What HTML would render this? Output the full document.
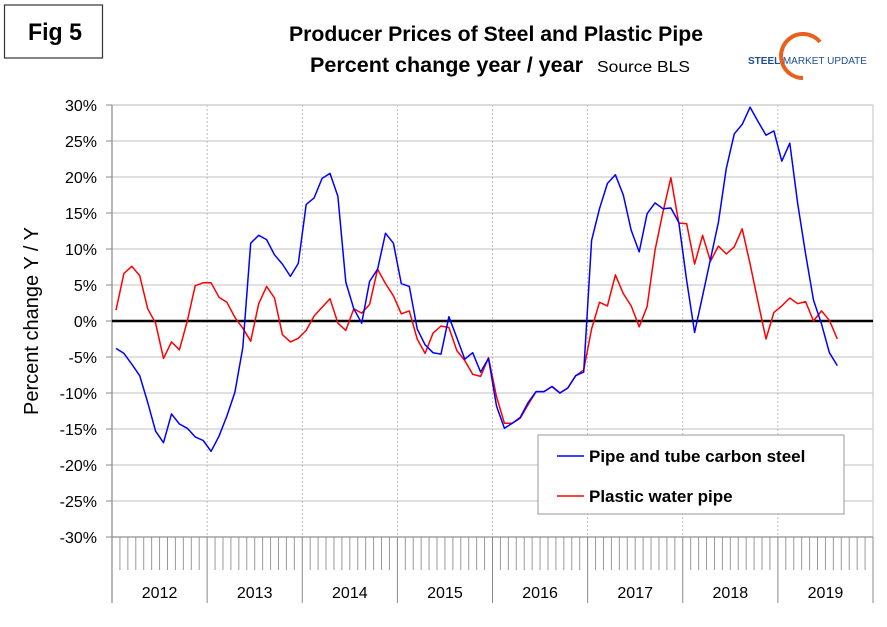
<!DOCTYPE html>
<html><head><meta charset="utf-8"><style>
body{margin:0;background:#fff;width:887px;height:622px;overflow:hidden;font-family:"Liberation Sans",Arial,sans-serif}
svg text{font-family:"Liberation Sans",Arial,sans-serif}
</style></head><body>
<svg id="chart" width="887" height="622" viewBox="0 0 887 622" xmlns="http://www.w3.org/2000/svg">
<rect x="4.5" y="5" width="98" height="53" fill="#fff" stroke="#333" stroke-width="1.2"/>
<text x="28" y="40" font-size="24" font-weight="bold" textLength="54" lengthAdjust="spacingAndGlyphs">Fig 5</text>
<text x="289" y="41" font-size="21" font-weight="bold" textLength="414" lengthAdjust="spacingAndGlyphs">Producer Prices of Steel and Plastic Pipe</text>
<text x="310" y="72" font-size="21" font-weight="bold" textLength="273" lengthAdjust="spacingAndGlyphs">Percent change year / year</text>
<text x="597" y="72" font-size="16" textLength="93" lengthAdjust="spacingAndGlyphs">Source BLS</text>
<g>
<path d="M 820 42 A 22 22 0 1 0 803 78" fill="none" stroke="#e8601c" stroke-width="4"/>
<text x="748" y="64" font-size="10" font-weight="bold" fill="#1b4f8f">STEEL <tspan font-weight="normal">MARKET UPDATE</tspan></text>
</g>
<g id="grid"></g>
<g id="axes"></g>
<g id="series"></g>
<text transform="translate(38,321) rotate(-90)" text-anchor="middle" font-size="20">Percent change Y / Y</text>
<g>
<rect x="538" y="435" width="306" height="79" fill="#fff" stroke="#999" stroke-width="1"/>
<line x1="557" y1="456" x2="584" y2="456" stroke="#0000ff" stroke-width="1.5"/>
<text x="589" y="462" font-size="17" font-weight="bold">Pipe and tube carbon steel</text>
<line x1="557" y1="496" x2="584" y2="496" stroke="#ff0000" stroke-width="1.5"/>
<text x="589" y="502" font-size="17" font-weight="bold">Plastic water pipe</text>
</g>
</svg>
<script>
const years = ["2012","2013","2014","2015","2016","2017","2018","2019"];
const yTicks = [30,25,20,15,10,5,0,-5,-10,-15,-20,-25,-30];
const steel = [-3.8,-4.5,-6.0,-7.6,-11.3,-15.3,-16.9,-12.9,-14.3,-14.9,-16.1,-16.6,-18.1,-16.0,-13.2,-9.9,-3.7,10.8,11.9,11.3,9.2,7.9,6.2,8.0,16.2,17.1,19.8,20.5,17.3,5.4,1.7,-0.3,5.5,7.2,12.2,10.8,5.2,4.8,-1.1,-3.3,-4.4,-4.6,0.6,-2.3,-5.3,-4.4,-7.1,-5.2,-11.8,-14.9,-14.2,-13.4,-11.3,-9.8,-9.8,-9.1,-10.0,-9.3,-7.6,-7.1,11.2,15.6,19.1,20.3,17.5,12.6,9.6,14.9,16.4,15.6,15.7,13.7,5.6,-1.6,3.5,8.6,13.7,21.2,26.0,27.3,29.7,27.7,25.8,26.4,22.2,24.7,16.3,9.3,2.9,-0.4,-4.4,-6.2];
const plastic = [1.5,6.6,7.6,6.3,1.7,-0.3,-5.2,-2.9,-4.0,0,4.9,5.3,5.3,3.3,2.6,0.5,-1.0,-2.8,2.4,4.8,3.2,-1.9,-2.9,-2.4,-1.3,0.7,1.9,3.1,-0.3,-1.3,1.7,1.1,2.3,7.2,5.2,3.5,1.0,1.4,-2.5,-4.5,-1.7,-0.7,-0.9,-4.1,-5.5,-7.4,-7.7,-5.1,-10.5,-14.2,-14.2,-13.5,-11.6,-9.8,-9.8,-9.1,-10.0,-9.3,-7.6,-6.8,-1.1,2.6,2.1,6.4,3.8,2.1,-0.8,2.0,9.8,15.1,19.9,13.6,13.5,7.9,11.9,8.3,10.4,9.3,10.3,12.8,7.9,2.6,-2.5,1.2,2.1,3.2,2.4,2.7,0,1.4,0.1,-2.5];

const NS="http://www.w3.org/2000/svg";
const X0=112, X1=873, Y0=105, Y1=537;
const monthW=(X1-X0)/(years.length*12);
function xScale(i){return X0+(i+0.5)*monthW;}
function yScale(v){return Y0+(30-v)/60*(Y1-Y0);}
function mk(tag,attrs,parent){const e=document.createElementNS(NS,tag);for(const k in attrs)e.setAttribute(k,attrs[k]);parent.appendChild(e);return e;}
const grid=document.getElementById('grid'), axes=document.getElementById('axes'), series=document.getElementById('series');

yTicks.forEach(t=>{
  const y=yScale(t);
  if(t!==0){const g=mk('line',{x1:X0,x2:X1,y1:y,y2:y,stroke:'#d6d6d6','stroke-width':1.5},grid);
  
  }
  mk('line',{x1:X0-6,x2:X0,y1:y,y2:y,stroke:'#888'},axes);
  const lb=mk('text',{x:97,y:y+6,'text-anchor':'end','font-size':16},axes);
  lb.textContent=t+'%';
  
  
});
years.forEach((yr,k)=>{
  const xa=X0+k*12*monthW;
  if(k>0){const g=mk('line',{x1:xa,x2:xa,y1:Y0,y2:Y1,stroke:'#aaa','stroke-dasharray':'2,2','stroke-width':0.8},grid);
  
  }
  mk('line',{x1:xa,x2:xa,y1:Y1,y2:603,stroke:'#888','stroke-width':1},axes);
  for(let m=1;m<12;m++){const xm=xa+m*monthW;mk('line',{x1:xm,x2:xm,y1:Y1,y2:570,stroke:'#999','stroke-width':1},axes);}
  const lb=mk('text',{x:xa+6*monthW,y:598,'text-anchor':'middle','font-size':16},axes);
  lb.textContent=yr;
  
  
});
mk('line',{x1:X1,x2:X1,y1:Y1,y2:603,stroke:'#888'},axes);
mk('line',{x1:X0,x2:X1,y1:Y0,y2:Y0,stroke:'#d6d6d6','stroke-width':1.5},grid);
mk('line',{x1:X1,x2:X1,y1:Y0,y2:Y1,stroke:'#d6d6d6','stroke-width':1.5},grid);
mk('line',{x1:X0,x2:X0,y1:Y0,y2:603,stroke:'#888','stroke-width':1.2},axes);
mk('line',{x1:X0,x2:X1,y1:Y1,y2:Y1,stroke:'#888','stroke-width':1},axes);
const zl=mk('line',{x1:X0,x2:X1,y1:yScale(0),y2:yScale(0),stroke:'#000','stroke-width':2.5},axes);



function drawLine(arr,color,name){
  const d=arr.map((v,i)=>(i?'L':'M')+xScale(i).toFixed(1)+' '+yScale(v).toFixed(1)).join(' ');
  const p=mk('path',{d:d,fill:'none',stroke:color,'stroke-width':1.5,'stroke-linejoin':'round'},series);
  
  
}
drawLine(plastic,'#ff0000','plastic-water-pipe-line');
drawLine(steel,'#0000ff','steel-pipe-line');
</script>
</body></html>
